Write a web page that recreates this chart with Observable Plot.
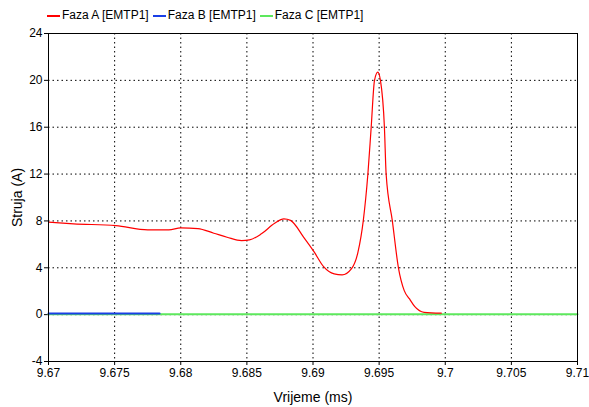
<!DOCTYPE html>
<html>
<head>
<meta charset="utf-8">
<script src="https://cdn.jsdelivr.net/npm/d3@7"></script>
<script src="https://cdn.jsdelivr.net/npm/@observablehq/plot@0.6"></script>
<style>
  html, body { margin: 0; padding: 0; background: #fff; }
  .item { display: inline-block; margin-right: 4px; vertical-align: middle; }
  .sw { display: inline-block; width: 13px; height: 2px; margin-right: 2px; vertical-align: middle; }
  g[aria-label="x-axis label"] text, g[aria-label="y-axis label"] text { font-size: 14px; }
</style>
</head>
<body>
<div id="wrap" style="position:relative;width:589px;height:407px;">
  <div id="chart" style="position:absolute;left:0;top:0;"></div>
  <div id="legend" style="position:absolute;left:47px;top:7px;z-index:2;font-family:'Liberation Sans',Arial,sans-serif;font-size:12px;color:#000;white-space:nowrap;line-height:14px;"></div>
</div>
<script>
const seriesNames = ["Faza A [EMTP1]", "Faza B [EMTP1]", "Faza C [EMTP1]"];
const seriesColors = ["#ff0000", "#1a3fe6", "#5de85d"];

const tA = [9.67, 9.6719, 9.6751, 9.6775, 9.6791, 9.68, 9.6813, 9.6825, 9.6835, 9.6846, 9.6852, 9.6861, 9.6871, 9.6878, 9.6883, 9.6893, 9.6901, 9.6908, 9.6916, 9.6922, 9.6929, 9.6934, 9.6938, 9.69415, 9.6944, 9.69465, 9.6949, 9.6951, 9.6954, 9.69553, 9.6960, 9.69646, 9.6969, 9.6973, 9.6977, 9.6984, 9.6997];
const iA = [7.89, 7.75, 7.6, 7.24, 7.24, 7.41, 7.35, 6.95, 6.61, 6.32, 6.38, 6.9, 7.8, 8.18, 8.05, 6.6, 5.33, 4.1, 3.48, 3.39, 3.9, 5.33, 8.0, 12.0, 16.0, 20.0, 20.7, 20.0, 16.0, 12.0, 8.0, 4.0, 2.05, 1.34, 0.68, 0.2, 0.13];

const tB = [9.67, 9.6784];
const iB = [0.1, 0.1];

const tC = [9.67, 9.71];
const iC = [0.03, 0.03];

const xTicks = [9.67, 9.675, 9.68, 9.685, 9.69, 9.695, 9.7, 9.705, 9.71];
const yTicks = [-4, 0, 4, 8, 12, 16, 20, 24];

const A = tA.map((t, i) => ({t, v: iA[i]}));
const B = tB.map((t, i) => ({t, v: iB[i]}));
const C = tC.map((t, i) => ({t, v: iC[i]}));

const legend = document.getElementById("legend");
seriesNames.forEach((n, i) => {
  const it = document.createElement("span");
  it.className = "item";
  it.innerHTML = `<span class="sw" style="background:${seriesColors[i]}"></span>${n}`;
  legend.appendChild(it);
});

const innerX = xTicks.slice(1, -1);
const innerY = yTicks.slice(1, -1);

const chart = Plot.plot({
  width: 589,
  height: 407,
  marginLeft: 48,
  marginRight: 12,
  marginTop: 33,
  marginBottom: 46,
  style: { fontFamily: "Liberation Sans, Arial, sans-serif", fontSize: "12px", color: "#000", background: "#fff" },
  x: { domain: [9.67, 9.71] },
  y: { domain: [-4, 24] },
  marks: [
    Plot.ruleX(innerX, { stroke: "#000", strokeDasharray: "1.5,3", strokeWidth: 1 }),
    Plot.ruleY(innerY, { stroke: "#000", strokeDasharray: "1.5,3", strokeWidth: 1 }),
    Plot.axisX({ ticks: xTicks, tickSize: 4, tickPadding: 3, tickFormat: d => String(+d.toFixed(3)), label: "Vrijeme (ms)", labelAnchor: "center", labelArrow: "none", labelOffset: 40 }),
    Plot.axisY({ ticks: yTicks, tickSize: 4, tickPadding: 2, tickFormat: d => String(d), label: "Struja (A)", labelAnchor: "center", labelArrow: "none", labelOffset: 36 }),
    Plot.line(C, { x: "t", y: "v", stroke: seriesColors[2], strokeWidth: 2 }),
    Plot.line(B, { x: "t", y: "v", stroke: seriesColors[1], strokeWidth: 2 }),
    Plot.line(A, { x: "t", y: "v", stroke: seriesColors[0], strokeWidth: 1.2, curve: "monotone-x" }),
    Plot.frame({ stroke: "#000", strokeWidth: 1 })
  ]
});
document.getElementById("chart").appendChild(chart);
</script>
</body>
</html>
